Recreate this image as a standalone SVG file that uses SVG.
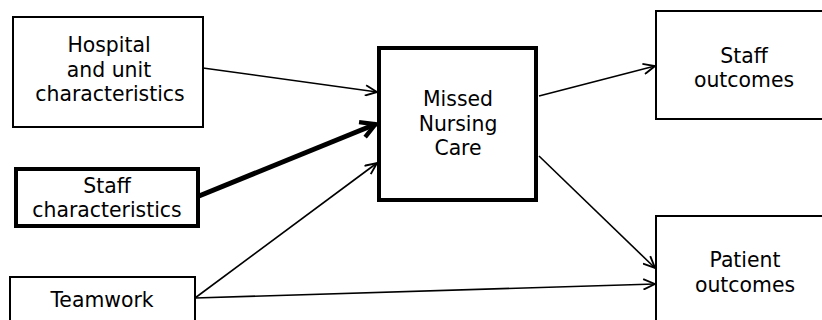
<svg xmlns="http://www.w3.org/2000/svg" width="822" height="320" viewBox="0 0 822 320">
<style>
.box{fill:#fff;stroke:#000;stroke-width:2}
.bold{stroke-width:4}
text{font-family:"DejaVu Sans",Verdana,sans-serif;font-size:20.4px;fill:#000;text-anchor:middle}
.c{fill:none;stroke:#000;stroke-width:1.6}
.ct{fill:none;stroke:#000;stroke-width:5}
</style>
<defs>
<marker id="ah" markerUnits="userSpaceOnUse" markerWidth="14" markerHeight="12" refX="11" refY="5" orient="auto" viewBox="0 0 12 10">
<path d="M1,0.5 L11,5 L1,9.5" fill="none" stroke="#000" stroke-width="1.6"/>
</marker>
<marker id="ahb" markerUnits="userSpaceOnUse" markerWidth="20" markerHeight="20" refX="14" refY="8" orient="auto" viewBox="0 0 16 16">
<path d="M2,1.5 L13.5,8 L2,14.5" fill="none" stroke="#000" stroke-width="3.5"/>
</marker>
</defs>
<g id="connectors">
<line class="c" x1="203" y1="68" x2="377" y2="92" marker-end="url(#ah)"/>
<line class="ct" x1="199" y1="196" x2="376" y2="124" marker-end="url(#ahb)"/>
<line class="c" x1="195" y1="298" x2="377" y2="163" marker-end="url(#ah)"/>
<line class="c" x1="195" y1="298" x2="655" y2="284" marker-end="url(#ah)"/>
<line class="c" x1="539" y1="96" x2="655" y2="66" marker-end="url(#ah)"/>
<line class="c" x1="539" y1="156" x2="655" y2="268" marker-end="url(#ah)"/>
</g>
<g id="hospital">
<rect class="box" x="13" y="17" width="190" height="110"/>
<text x="109" y="52">Hospital</text>
<text x="109" y="77">and unit</text>
<text x="110" y="101">characteristics</text>
</g>
<g id="staff-char">
<rect class="box bold" x="16" y="169" width="182" height="57"/>
<text x="107" y="193">Staff</text>
<text x="107" y="217">characteristics</text>
</g>
<g id="teamwork">
<rect class="box" x="10" y="277" width="185" height="60"/>
<text x="102" y="307">Teamwork</text>
</g>
<g id="missed-care">
<rect class="box bold" x="379" y="48" width="157" height="152"/>
<text x="458" y="106">Missed</text>
<text x="458" y="131">Nursing</text>
<text x="458" y="155">Care</text>
</g>
<g id="staff-outcomes">
<rect class="box" x="656" y="11" width="180" height="108"/>
<text x="744" y="63">Staff</text>
<text x="744" y="87">outcomes</text>
</g>
<g id="patient-outcomes">
<rect class="box" x="656" y="216" width="180" height="120"/>
<text x="745" y="267">Patient</text>
<text x="745" y="292">outcomes</text>
</g>
</svg>
